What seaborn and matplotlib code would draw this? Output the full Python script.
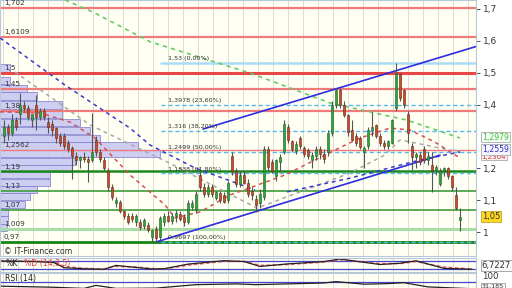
import numpy as np
import pandas as pd
import matplotlib
matplotlib.use("Agg")
import matplotlib.pyplot as plt
import seaborn as sns

# ---------------- data ----------------
opens = [1.30,1.33,1.31,1.35,1.37,1.40,1.39,1.35,1.40,1.36,1.38,1.345,1.34,1.326,1.30,1.30,1.28,1.265,1.24,1.225,
         1.235,1.23,1.226,1.29,1.25,1.226,1.19,1.14,1.09,1.095,1.065,1.05,1.05,1.03,1.03,1.02,1.022,0.985,1.01,0.985,
         1.03,1.05,1.035,1.05,1.055,1.047,1.03,1.08,1.07,1.18,1.14,1.12,1.14,1.107,1.122,1.115,1.10,1.24,1.19,1.15,
         1.18,1.155,1.13,1.105,1.09,1.11,1.26,1.22,1.175,1.22,1.25,1.33,1.285,1.255,1.295,1.265,1.257,1.226,1.24,1.26,
         1.245,1.25,1.31,1.40,1.446,1.40,1.367,1.32,1.30,1.295,1.25,1.27,1.32,1.335,1.30,1.28,1.27,1.28,1.39,1.495,
         1.446,1.37,1.27,1.235,1.242,1.26,1.225,1.21,1.195,1.15,1.19,1.20,1.175,1.116,1.038]
highs = [1.35,1.34,1.37,1.36,1.435,1.41,1.40,1.37,1.43,1.39,1.39,1.36,1.35,1.33,1.31,1.31,1.29,1.27,1.25,1.24,
         1.25,1.24,1.373,1.30,1.26,1.235,1.20,1.15,1.11,1.10,1.07,1.06,1.06,1.055,1.04,1.045,1.03,1.01,1.02,1.05,
         1.06,1.065,1.06,1.07,1.065,1.055,1.10,1.10,1.13,1.19,1.155,1.15,1.15,1.13,1.13,1.125,1.16,1.25,1.20,1.19,
         1.19,1.165,1.14,1.115,1.135,1.27,1.27,1.23,1.23,1.245,1.35,1.34,1.29,1.285,1.30,1.27,1.265,1.25,1.27,1.27,
         1.26,1.32,1.41,1.452,1.452,1.41,1.37,1.35,1.31,1.30,1.27,1.33,1.377,1.34,1.31,1.29,1.29,1.355,1.53,1.50,
         1.45,1.38,1.28,1.25,1.25,1.27,1.25,1.25,1.21,1.20,1.205,1.205,1.18,1.14,1.075]
lows = [1.28,1.29,1.30,1.32,1.34,1.38,1.35,1.33,1.32,1.35,1.35,1.31,1.30,1.28,1.27,1.26,1.25,1.165,1.21,1.20,
        1.22,1.157,1.22,1.24,1.22,1.19,1.13,1.10,1.08,1.06,1.04,1.025,1.03,1.02,1.005,1.01,1.00,0.9697,0.9697,0.975,
        1.02,1.03,1.025,1.03,1.035,1.02,1.025,1.07,1.06,1.13,1.11,1.11,1.11,1.10,1.09,1.09,1.09,1.18,1.14,1.14,
        1.15,1.11,1.10,1.063,1.075,1.10,1.19,1.185,1.16,1.19,1.245,1.28,1.25,1.245,1.26,1.235,1.23,1.20,1.225,1.23,
        1.215,1.24,1.30,1.39,1.39,1.36,1.30,1.285,1.27,1.26,1.20,1.26,1.30,1.295,1.27,1.26,1.26,1.275,1.38,1.41,
        1.39,1.28,1.195,1.20,1.21,1.215,1.21,1.125,1.18,1.145,1.175,1.165,1.13,1.07,1.003]
closes = [1.33,1.31,1.35,1.33,1.40,1.39,1.36,1.37,1.36,1.38,1.36,1.33,1.32,1.295,1.28,1.27,1.26,1.24,1.225,1.235,
          1.23,1.22,1.25,1.25,1.23,1.20,1.14,1.11,1.10,1.065,1.05,1.03,1.04,1.05,1.015,1.038,1.006,1.005,0.98,1.045,
          1.05,1.035,1.05,1.06,1.04,1.03,1.09,1.09,1.12,1.14,1.12,1.14,1.12,1.125,1.10,1.095,1.154,1.19,1.15,1.18,
          1.155,1.12,1.115,1.085,1.12,1.26,1.205,1.19,1.225,1.235,1.34,1.29,1.26,1.275,1.27,1.245,1.24,1.242,1.26,1.245,
          1.23,1.31,1.40,1.446,1.40,1.367,1.314,1.29,1.28,1.267,1.265,1.32,1.33,1.30,1.28,1.27,1.285,1.35,1.50,1.42,
          1.40,1.31,1.235,1.245,1.22,1.225,1.24,1.195,1.205,1.19,1.20,1.175,1.14,1.075,1.047]

res_levels = [1.702, 1.6109, 1.5, 1.45, 1.38, 1.2562]
res_labels = ["1,702", "1,6109", "1,5", "1,45", "1,38", "1,2562"]
sup_levels = [1.19, 1.13, 1.07, 1.009, 0.97]
sup_labels = ["1,19", "1,13", "1,07", "1,009", "0,97"]

fib_levels = [1.53, 1.3978, 1.316, 1.2499, 1.1838, 0.9697]
fib_labels = ["1,53 (0,00%)", "1,3978 (23,60%)", "1,316 (38,20%)", "1,2499 (50,00%)",
              "1,1838 (61,80%)", "0,9697 (100,00%)"]

# trend lines (candle index, price)
up_line_x = [49.75, 118]
up_line_y = [1.323, 1.582]
lo_line_x = [38.25, 109]
lo_line_y = [0.9695, 1.241]
desc_dash_x = [-1, 15.25, 31.5, 36.5, 47.75, 62.75]
desc_dash_y = [1.609, 1.461, 1.326, 1.273, 1.201, 1.132]
asc_dash_x = [70.75, 86.5, 104, 114]
asc_dash_y = [1.126, 1.169, 1.226, 1.251]

# dashed curves (candle index, price)
ma_long_x = [15.25, 22.25, 36.5, 61.5, 81.5, 100.75, 114]
ma_long_y = [1.728, 1.69, 1.597, 1.499, 1.405, 1.351, 1.295]
ma_mid_x = [2.75, 21.5, 40.75, 63.25, 86.5, 95.25, 99, 114]
ma_mid_y = [1.502, 1.336, 1.22, 1.075, 1.185, 1.242, 1.289, 1.251]
ma_short_x = [-1, 9, 16.5, 22.75, 31.5, 40.25, 42.75, 49, 56.5, 70.25, 82.75, 89, 96.5, 101.5, 107.75, 114]
ma_short_y = [1.377, 1.374, 1.345, 1.295, 1.179, 1.085, 1.044, 1.063, 1.116, 1.179, 1.257, 1.295, 1.326, 1.32,
              1.282, 1.232]

# volume profile (price bin centre, length in candle units)
prof_price = [1.0135, 1.038, 1.062, 1.087, 1.112, 1.134, 1.155, 1.18, 1.20, 1.222, 1.246, 1.27, 1.293, 1.318,
              1.343, 1.37, 1.398, 1.427, 1.45, 1.475, 1.515]
prof_len = [1.8, 2.0, 2.0, 6.2, 7.5, 9.2, 12.5, 12.5, 18.0, 18.8, 40.0, 34.5, 25.0, 22.5, 20.0, 15.5, 15.5, 9.2, 6.8, 2.5, 2.5]

# oscillators (candle index, value)
stoch_x = [-1, 8, 12.5, 15, 20, 25, 28, 33, 37, 40, 46, 55, 60, 64, 71, 80, 84, 94, 99, 103, 110, 117]
stoch_k = [83, 78, 70, 30, 22, 18, 48, 32, 20, 22, 58, 85, 78, 40, 60, 78, 98, 55, 65, 84, 25, 18]
stoch_d = [80, 80, 74, 40, 25, 20, 40, 36, 24, 20, 50, 80, 80, 48, 55, 74, 92, 62, 62, 78, 35, 20]
rsi_x = [-1, 12, 20, 23, 28, 38, 48, 58, 63, 80, 83, 90, 96, 100, 106, 117]
rsi_v = [45, 38, 30, 50, 30, 32, 55, 60, 55, 66, 75, 58, 62, 68, 40, 28]

# ---------------- drawing ----------------
sns.set_style("white")
plt.rcParams['font.family'] = ['DejaVu Sans']

W, H = 512, 288
fig = plt.figure(figsize=(W / 100, H / 100), dpi=100)
fig.patch.set_facecolor("white")

def axes_px(x0, y0, x1, y1):
    return fig.add_axes([x0 / W, 1 - y1 / H, (x1 - x0) / W, (y1 - y0) / H])

DASH = (0, (2.5, 2.5))
XL = (-1, 118)
ax = axes_px(0, 0, 476, 256)
ax.set_facecolor("#fffff4")
ax.set_xlim(*XL)
ax.set_ylim(0.9247, 1.728)

grid_x = np.arange(-0.25, 118, 3.75)
for gx in grid_x:
    ax.axvline(gx, color="#dcdcd4", lw=0.7, zorder=0)

# volume profile
ax.barh(prof_price, prof_len, height=0.0235, left=XL[0], color="#c9c9f2", edgecolor="#8080d0",
        linewidth=0.6, alpha=0.9, zorder=1)

# horizontal levels
for lv in res_levels:
    lw, col = (2.2, "#e84848") if lv == 1.5 else (1.6, "#f07a7a")
    if lv == 1.2562:
        lw = 1.0
    ax.axhline(lv, color=col, lw=lw, zorder=2)
sup_style = {1.19: (1.8, "#1b8a1b"), 1.13: (1.2, "#3c9c3c"), 1.07: (1.2, "#3c9c3c"),
             1.009: (2.2, "#a8dca8"), 0.97: (2.0, "#158515")}
for lv in sup_levels:
    lw, col = sup_style[lv]
    ax.axhline(lv, color=col, lw=lw, zorder=2)

fx0 = 39.25
for lv, lab in zip(fib_levels, fib_labels):
    if lv == 1.53:
        ax.plot([fx0, XL[1]], [lv, lv], color="#a8dcf8", lw=1.8, zorder=2)
    else:
        ax.plot([fx0, XL[1]], [lv, lv], color="#55bbee", lw=1.0, ls=(0, (3, 2)), zorder=2)
    ax.text(fx0 + 1.8, lv + 0.006, lab, fontsize=4.6, color="#333333", va="bottom", ha="left", zorder=6)

for lv, lab in zip(res_levels + sup_levels, res_labels + sup_labels):
    ax.text(0.0, lv + 0.006, lab, fontsize=5.2, color="#333333", va="bottom", ha="left", zorder=6)

# dashed curves
def dashed(xs, ys, col, lw=1.1):
    sns.lineplot(x=xs, y=ys, ax=ax, color=col, lw=lw, zorder=3, sort=False)
    ax.lines[-1].set_linestyle(DASH)

dashed(ma_long_x, ma_long_y, "#66cc66", 1.2)
dashed(ma_mid_x, ma_mid_y, "#a8a8a8")
dashed(ma_short_x, ma_short_y, "#d85050")
dashed(desc_dash_x, desc_dash_y, "#3a3acc")
dashed(asc_dash_x, asc_dash_y, "#3a3acc")

# trend lines
sns.lineplot(x=up_line_x, y=up_line_y, ax=ax, color="#2c2ce0", lw=1.2, zorder=4)
sns.lineplot(x=lo_line_x, y=lo_line_y, ax=ax, color="#2c2ce0", lw=1.2, zorder=4)

# candles
idx = np.arange(len(closes))
o = np.array(opens); c = np.array(closes); h = np.array(highs); l = np.array(lows)
up = c >= o
ax.vlines(idx, l, h, color="#555555", lw=0.8, zorder=5)
body_b = np.minimum(o, c)
body_h = np.maximum(np.abs(c - o), 0.004)
ax.bar(idx[up], body_h[up], bottom=body_b[up], width=0.7, color="#22aa33", edgecolor="#2a5a2a",
       linewidth=0.4, zorder=5.5)
ax.bar(idx[~up], body_h[~up], bottom=body_b[~up], width=0.7, color="#d04a20", edgecolor="#5a2a1a",
       linewidth=0.4, zorder=5.5)

ax.text(0.0, 0.9395, "© IT-Finance.com", fontsize=5.6, color="#333333", va="center", ha="left", zorder=6)

# right axis
ax.yaxis.tick_right()
ax.set_yticks([1.0, 1.1, 1.2, 1.4, 1.5, 1.6, 1.7])
ax.set_yticklabels(["1", "1,1", "1,2", "1,4", "1,5", "1,6", "1,7"])
ax.tick_params(axis="y", labelsize=6.5, colors="#333333", length=3, width=0.6, pad=2, right=True)
ax.tick_params(axis="x", bottom=False, labelbottom=False)
ax.set_xlabel(""); ax.set_ylabel("")
for s in ax.spines.values():
    s.set_color("#b8c8d8")
    s.set_linewidth(0.8)

def box(a, y_val, txt, fc, ec, tc, fs=5.6):
    a.text(1.012, y_val, txt, transform=a.get_yaxis_transform(), fontsize=fs, color=tc, va="center",
           ha="left", bbox=dict(boxstyle="square,pad=0.12", fc=fc, ec=ec, lw=0.6), zorder=7, clip_on=False)

box(ax, 1.2979, "1,2979", "#f4fff4", "#aaaaaa", "#44bb44")
box(ax, 1.2364, "1,2364", "#fff4f4", "#aaaaaa", "#cc3333", 5.0)
box(ax, 1.2585, "1,2559", "#f4f4ff", "#aaaaaa", "#3333bb")
box(ax, 1.05, "1,05", "#ffd820", "#bbaa33", "#333333", 6)

# stochastic panel
ax2 = axes_px(0, 258, 476, 272)
ax2.set_facecolor("#fffff4")
ax2.set_xlim(*XL)
ax2.set_ylim(-3.4, 105.8)
for gx in grid_x:
    ax2.axvline(gx, color="#dcdcd4", lw=0.7, zorder=0)
ax2.axhline(80, color="#4444cc", lw=0.9)
ax2.axhline(20, color="#4444cc", lw=0.9)
sns.lineplot(x=stoch_x, y=stoch_d, ax=ax2, color="#ee6060", lw=1.1)
ax2.lines[-1].set_linestyle((0, (2.5, 1.5)))
sns.lineplot(x=stoch_x, y=stoch_k, ax=ax2, color="#222222", lw=0.9)
ax2.text(0.3, 98, "%K", fontsize=5.6, color="#222222", va="top", ha="left")
ax2.text(5.0, 98, "%D (14,3,5)", fontsize=5.6, color="#dd4444", va="top", ha="left")
ax2.set_xticks([]); ax2.set_yticks([])
ax2.set_xlabel(""); ax2.set_ylabel("")
for s in ax2.spines.values():
    s.set_color("#b8c8d8"); s.set_linewidth(0.8)
box(ax2, 50, "6,7227", "#f8f8f8", "#999999", "#333333", 6)

# RSI panel
ax3 = axes_px(0, 273, 476, 290)
ax3.set_facecolor("#fffff4")
ax3.set_xlim(*XL)
ax3.set_ylim(19.6, 132)
for gx in grid_x:
    ax3.axvline(gx, color="#dcdcd4", lw=0.7, zorder=0)
ax3.axhline(70, color="#4444cc", lw=0.9)
sns.lineplot(x=rsi_x, y=rsi_v, ax=ax3, color="#222222", lw=0.9)
ax3.text(0.3, 126, "RSI (14)", fontsize=5.6, color="#222222", va="top", ha="left")
ax3.set_xticks([]); ax3.set_yticks([])
ax3.set_xlabel(""); ax3.set_ylabel("")
for s in ax3.spines.values():
    s.set_color("#b8c8d8"); s.set_linewidth(0.8)
ax3.text(1.012, 108, "100", transform=ax3.get_yaxis_transform(), fontsize=6.2, color="#333333",
         va="center", ha="left", clip_on=False)
box(ax3, 47, "31,185", "#f8f8f8", "#999999", "#333333", 4.6)

fig.savefig("out.png", dpi=100, facecolor="white")
